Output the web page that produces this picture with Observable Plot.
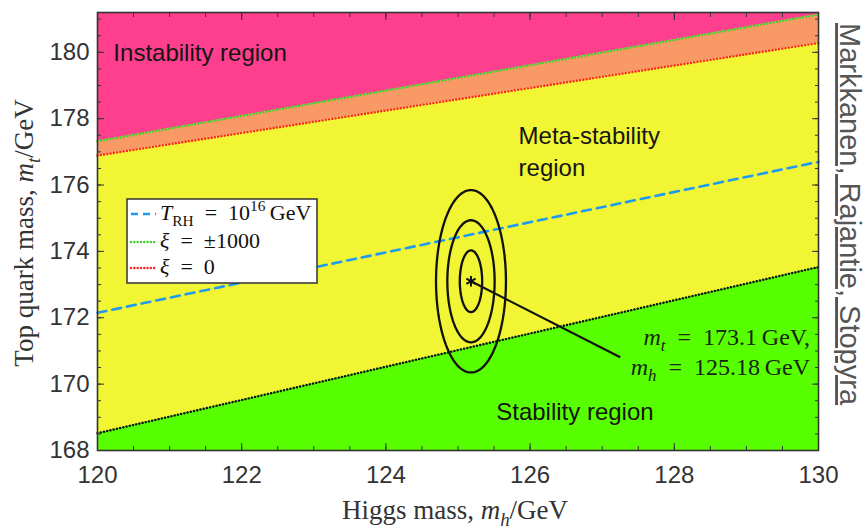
<!DOCTYPE html>
<html><head><meta charset="utf-8">
<script src="https://cdn.jsdelivr.net/npm/d3@7"></script>
<script src="https://cdn.jsdelivr.net/npm/@observablehq/plot@0.6"></script>
<style>
html,body{margin:0;padding:0;background:#fff;}
text{white-space:pre;}
</style></head><body><div id="chart"></div>
<script>
// ---- data ----
const higgsMass = [120, 130];                 // x endpoints of the boundary lines
const xiPm1000 = [177.32, 181.14];            // green dotted  (ξ = ±1000)
const xi0 = [176.89, 180.28];                 // red dotted    (ξ = 0)
const tRH = [172.15, 176.70];                 // blue dashed   (T_RH = 10^16 GeV)
const stabilityEdge = [168.52, 173.53];       // black dotted  (stability boundary)
const yDomain = [168, 181.2];
const xDomain = [120, 130];
const xTicks = [120, 122, 124, 126, 128, 130];
const yTicks = [168, 170, 172, 174, 176, 178, 180];
const bestFit = {mh: 125.18, mt: 173.1};
const contourHalfWidthMh = [0.155, 0.328, 0.485];
const contourHalfHeightMt = [0.93, 1.84, 2.75];
const annotationEnd = {mh: 127.25, mt: 170.81};
const regionLabels = [
  {text: "Instability region", mh: 120.22, mt: 179.97},
  {text: "Meta-stability", mh: 125.84, mt: 177.47},
  {text: "region", mh: 125.84, mt: 176.50},
  {text: "Stability region", mh: 125.53, mt: 169.15}
];
const annotationLines = [
  {parts: [["m","it"],["t","itsub"],["\u2002=\u2002173.1\u2009GeV,","rm"]], mh: 129.89, mt: 171.15},
  {parts: [["m","it"],["h","itsub"],["\u2002=\u2002125.18\u2009GeV","rm"]], mh: 129.89, mt: 170.26}
];
const colors = {pink: "#fe3f8d", orange: "#f99a66", yellow: "#f1f534", green: "#58ff00",
  lineGreen: "#3fd22a", lineRed: "#ff2424", lineBlue: "#1e9bf0"};

// ---- derived tables ----
const bandRows = higgsMass.map((mh, i) => ({
  mh, top: yDomain[1], green: xiPm1000[i], red: xi0[i], blue: tRH[i], black: stabilityEdge[i], bottom: yDomain[0]
}));
const xMinor = d3.range(120, 130.001, 0.5);
const yMinor = d3.range(168, 181.001, 0.5);
const ellipsePts = [];
contourHalfWidthMh.forEach((a, k) => {
  const b = contourHalfHeightMt[k];
  for (let deg = 0; deg <= 360; deg += 4) {
    const t = deg * Math.PI / 180;
    ellipsePts.push({k, mh: bestFit.mh + a * Math.cos(t), mt: bestFit.mt + b * Math.sin(t)});
  }
});

const dots = {strokeWidth: 2.4, strokeDasharray: "0.1,3.2", strokeLinecap: "round"};
const axisColor = "#333";
const plot = Plot.plot({
  width: 867, height: 531,
  marginLeft: 97, marginRight: 49, marginTop: 12, marginBottom: 81,
  x: {domain: xDomain},
  y: {domain: yDomain},
  style: {fontFamily: "'Liberation Sans', Arial, sans-serif", fontSize: "24px", background: "white", color: "#222"},
  marks: [
    Plot.areaY(bandRows, {x: "mh", y1: "green", y2: "top", fill: colors.pink}),
    Plot.areaY(bandRows, {x: "mh", y1: "red", y2: "green", fill: colors.orange}),
    Plot.areaY(bandRows, {x: "mh", y1: "black", y2: "red", fill: colors.yellow}),
    Plot.areaY(bandRows, {x: "mh", y1: "bottom", y2: "black", fill: colors.green}),
    Plot.line(bandRows, {x: "mh", y: "green", stroke: colors.lineGreen, ...dots}),
    Plot.line(bandRows, {x: "mh", y: "red", stroke: colors.lineRed, ...dots}),
    Plot.line(bandRows, {x: "mh", y: "black", stroke: "#111", ...dots}),
    Plot.line(bandRows, {x: "mh", y: "blue", stroke: colors.lineBlue, strokeWidth: 2.6, strokeDasharray: "9,6"}),
    Plot.line(ellipsePts, {x: "mh", y: "mt", z: "k", stroke: "#111", strokeWidth: 2.3}),
    Plot.link([annotationEnd], {x1: () => bestFit.mh, y1: () => bestFit.mt, x2: "mh", y2: "mt", stroke: "#111", strokeWidth: 2.2}),
    Plot.dot([bestFit], {x: "mh", y: "mt", symbol: "asterisk", r: 5, stroke: "#111", strokeWidth: 2}),
    Plot.text(regionLabels, {x: "mh", y: "mt", text: "text", textAnchor: "start", fontSize: 24, fill: "#151515"}),
    // inward ticks on all four sides
    Plot.axisX(xMinor, {anchor: "bottom", tickSize: -4, fill: "none", stroke: axisColor, label: null}),
    Plot.axisX(xTicks, {anchor: "bottom", tickSize: -7, fill: "none", stroke: axisColor, label: null}),
    Plot.axisX(xMinor, {anchor: "top", tickSize: -4, fill: "none", stroke: axisColor, label: null}),
    Plot.axisX(xTicks, {anchor: "top", tickSize: -7, fill: "none", stroke: axisColor, label: null}),
    Plot.axisY(yMinor, {anchor: "left", tickSize: -4, fill: "none", stroke: axisColor, label: null}),
    Plot.axisY(yTicks, {anchor: "left", tickSize: -7, fill: "none", stroke: axisColor, label: null}),
    Plot.axisY(yMinor, {anchor: "right", tickSize: -4, fill: "none", stroke: axisColor, label: null}),
    Plot.axisY(yTicks, {anchor: "right", tickSize: -7, fill: "none", stroke: axisColor, label: null}),
    // tick labels
    Plot.axisX(xTicks, {anchor: "bottom", tickSize: 0, tickPadding: 15, fontSize: 24, fill: "#333", label: null}),
    Plot.axisY(yTicks, {anchor: "left", tickSize: 0, tickPadding: 8, fontSize: 24, fill: "#333", label: null}),
    Plot.frame({stroke: "#333", strokeWidth: 1.6})
  ]
});
document.getElementById("chart").appendChild(plot);

// ---- rich (math) text ----
const svg = d3.select(plot);
const xs = plot.scale("x"), ys = plot.scale("y");
function rich(sel, parts, fs) {
  let shift = 0;
  for (const [t, s] of parts) {
    const ts = sel.append("tspan").text(t);
    let target = 0;
    if (s.includes("sub")) target = 0.25 * fs;
    if (s.includes("sup")) target = -0.42 * fs;
    if (target - shift !== 0) ts.attr("dy", target - shift);
    shift = target;
    if (s.includes("sub") || s.includes("sup")) ts.attr("font-size", fs * 0.7);
    if (s.includes("it")) ts.attr("font-style", "italic");
  }
}
const serif = "'Liberation Serif', 'Times New Roman', serif";

// axis titles
const yTitle = svg.append("text").attr("transform", "translate(33,233) rotate(-90)")
  .attr("text-anchor", "middle").attr("font-family", serif).attr("font-size", 27).attr("fill", "#333");
rich(yTitle, [["Top quark mass, ","rm"],["m","it"],["t","itsub"],["/GeV","rm"]], 27);
const xTitle = svg.append("text").attr("x", 455).attr("y", 519)
  .attr("text-anchor", "middle").attr("font-family", serif).attr("font-size", 27).attr("fill", "#333");
rich(xTitle, [["Higgs mass, ","rm"],["m","it"],["h","itsub"],["/GeV","rm"]], 27);

// annotation of best fit point
for (const a of annotationLines) {
  const t = svg.append("text").attr("x", xs.apply(a.mh)).attr("y", ys.apply(a.mt))
    .attr("text-anchor", "end").attr("font-family", serif).attr("font-size", 24).attr("fill", "#142414");
  rich(t, a.parts, 24);
}

// legend
const lg = svg.append("g").attr("text-anchor", "start");
lg.append("rect").attr("x", 127).attr("y", 199).attr("width", 190).attr("height", 84)
  .attr("fill", "white").attr("stroke", "#333").attr("stroke-width", 1.5);
const legendRows = [
  {y: 214, base: 220, stroke: colors.lineBlue, dash: "7,5", w: 2.6, cap: "butt",
   parts: [["T","it"],["RH","sub"],["\u2002=\u200210","rm"],["16","sup"],["\u2009GeV","rm"]]},
  {y: 242, base: 248, stroke: colors.lineGreen, dash: "0.1,3.2", w: 2.4, cap: "round",
   parts: [["ξ","it"],["\u2002=\u2002±1000","rm"]]},
  {y: 268, base: 274, stroke: colors.lineRed, dash: "0.1,3.2", w: 2.4, cap: "round",
   parts: [["ξ","it"],["\u2002=\u20020","rm"]]}
];
for (const r of legendRows) {
  lg.append("line").attr("x1", 131).attr("x2", 156).attr("y1", r.y).attr("y2", r.y)
    .attr("stroke", r.stroke).attr("stroke-width", r.w).attr("stroke-dasharray", r.dash)
    .attr("stroke-linecap", r.cap);
  const t = lg.append("text").attr("x", 160).attr("y", r.base).attr("text-anchor", "start")
    .attr("font-family", serif).attr("font-size", 22).attr("fill", "#111");
  rich(t, r.parts, 22);
}

// credit
svg.append("text").attr("transform", "translate(840,23) rotate(90)").attr("text-anchor", "start")
  .attr("font-family", "'Liberation Sans', Arial, sans-serif").attr("font-size", 29)
  .attr("fill", "#555").attr("text-decoration", "underline")
  .text("Markkanen, Rajantie, Stopyra");
</script>
</body></html>
